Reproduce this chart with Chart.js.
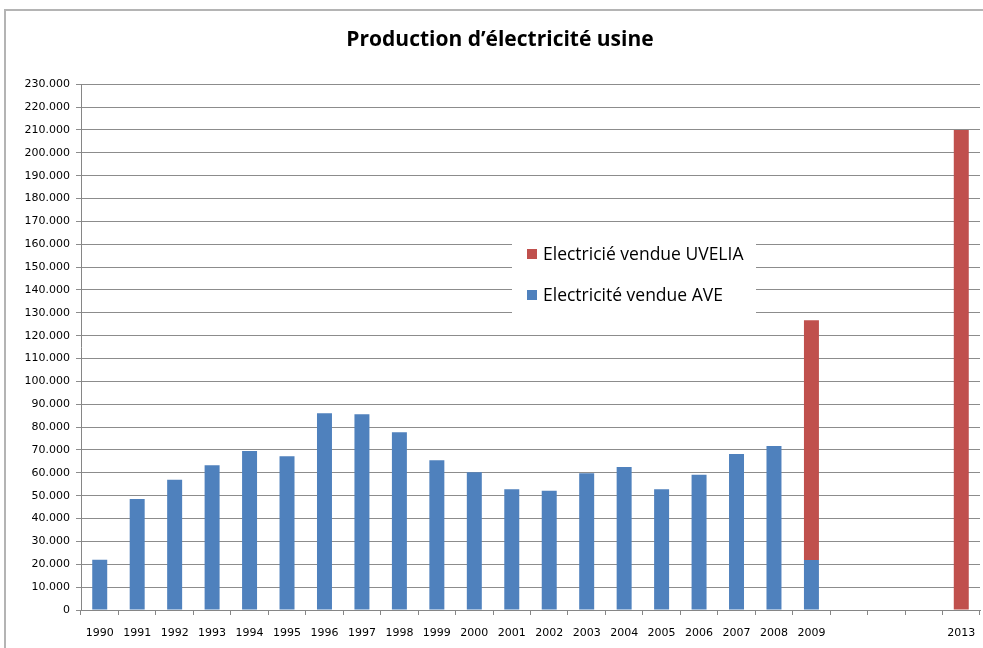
<!DOCTYPE html>
<html>
<head>
<meta charset="utf-8">
<script src="https://cdn.jsdelivr.net/npm/chart.js@4.4.0/dist/chart.umd.min.js"></script>
<style>
  html, body { margin: 0; padding: 0; background: #fff; }
  #wrap { position: relative; width: 983px; height: 648px; }
  #frame { position: absolute; left: 4px; top: 9px; right: 0; bottom: 0;
           border-left: 2px solid #b4b4b4; border-top: 2px solid #b4b4b4; pointer-events: none; }
  canvas { position: absolute; left: 0; top: 0; }
</style>
</head>
<body>
<div id="wrap">
  <canvas id="c" width="983" height="648"></canvas>
  <div id="frame"></div>
</div>
<script>
const titleText = 'Production d\u2019électricité usine';
const categories = ['1990','1991','1992','1993','1994','1995','1996','1997','1998','1999',
                    '2000','2001','2002','2003','2004','2005','2006','2007','2008','2009',
                    '','','','2013'];
const aveLabel = 'Electricité vendue AVE';
const aveValues = [22000, 48500, 57000, 63300, 69500, 67300, 86100, 85600, 77700, 65500,
                   60300, 52800, 52200, 59800, 62500, 52800, 59200, 68200, 71700, 21900,
                   null, null, null, null];
const uveliaLabel = 'Electricié vendue UVELIA';
const uveliaValues = [null, null, null, null, null, null, null, null, null, null,
                      null, null, null, null, null, null, null, null, null, 104800,
                      null, null, null, 210000];
const yMax = 230000;
const yStep = 10000;

function fmt(v) {
  if (v === 0) return '0';
  return String(v).replace(/\B(?=(\d{3})+(?!\d))/g, '.');
}

const legendPlugin = {
  id: 'boxLegend',
  afterDraw(chart) {
    const ctx = chart.ctx;
    ctx.save();
    ctx.fillStyle = '#ffffff';
    ctx.fillRect(512, 236, 244, 84);
    const items = chart.data.datasets.slice().reverse();
    const ys = [254, 295];
    ctx.font = '17.5px "Open Sans", "Liberation Sans", sans-serif';
    ctx.textBaseline = 'middle';
    ctx.textAlign = 'left';
    items.forEach((ds, i) => {
      ctx.fillStyle = ds.backgroundColor;
      ctx.fillRect(527, ys[i] - 5, 10, 10);
      ctx.fillStyle = '#000';
      ctx.fillText(ds.label, 543, ys[i] + 1);
    });
    ctx.restore();
  }
};

new Chart(document.getElementById('c'), {
  type: 'bar',
  data: {
    labels: categories,
    datasets: [
      { label: aveLabel, data: aveValues, backgroundColor: '#4F81BD',
        barPercentage: 0.8, categoryPercentage: 0.5 },
      { label: uveliaLabel, data: uveliaValues, backgroundColor: '#C0504D',
        barPercentage: 0.8, categoryPercentage: 0.5 }
    ]
  },
  options: {
    responsive: false,
    animation: false,
    layout: { padding: { left: 20, right: 3, top: 0, bottom: 0 } },
    plugins: {
      legend: { display: false },
      tooltip: { enabled: false },
      title: {
        display: true,
        text: titleText,
        color: '#000',
        font: { family: '"Open Sans", "Liberation Sans", sans-serif', size: 21, weight: 'bold', lineHeight: 1.2 },
        padding: { top: 27, bottom: 32 }
      }
    },
    scales: {
      x: {
        stacked: true,
        grid: { display: true, drawOnChartArea: false, drawTicks: true, tickLength: 5,
                color: '#868686', offset: true },
        border: { display: true, color: '#868686', width: 1 },
        ticks: { color: '#000', font: { family: '"DejaVu Sans", sans-serif', size: 11, lineHeight: 2.6 },
                 padding: 4, autoSkip: false, maxRotation: 0 },
        afterFit(scale) { scale.height = 38; }
      },
      y: {
        stacked: true,
        min: 0, max: yMax,
        grid: { color: '#8c8c8c', tickLength: 5, lineWidth: 1 },
        border: { display: true, color: '#868686', width: 1 },
        ticks: { stepSize: yStep, color: '#000', padding: 6,
                 font: { family: '"DejaVu Sans", sans-serif', size: 11 },
                 callback: (v) => fmt(v) },
        afterFit(scale) { scale.width = 61; }
      }
    }
  },
  plugins: [legendPlugin]
});
</script>
</body>
</html>
